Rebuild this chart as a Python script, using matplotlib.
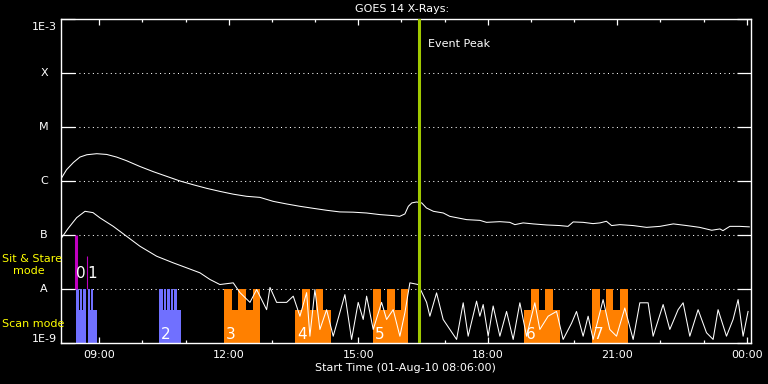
import matplotlib
matplotlib.use('Agg')
import matplotlib.pyplot as plt
import numpy as np

# GOES 14 x-ray flux (W/m^2), time in hours of 01-Aug-10
long_t = [8.11, 8.24, 8.40, 8.55, 8.71, 8.94, 9.17, 9.40, 9.63, 9.94, 10.25, 10.56,
          10.87, 11.18, 11.49, 11.80, 12.10, 12.41, 12.72, 13.03, 13.34, 13.65, 13.96,
          14.27, 14.57, 14.88, 15.19, 15.50, 15.81, 15.96, 16.08, 16.16, 16.24, 16.35,
          16.47, 16.58, 16.74, 16.97, 17.12, 17.51, 17.82, 17.97, 18.28, 18.51, 18.63,
          18.82, 19.05, 19.36, 19.67, 19.86, 19.98, 20.21, 20.44, 20.60, 20.75, 20.87,
          21.06, 21.37, 21.68, 21.99, 22.30, 22.61, 22.91, 23.19, 23.38, 23.45, 23.61,
          23.84, 24.06]
long_flux = [1.09e-6, 1.62e-6, 2.21e-6, 2.78e-6, 3.07e-6, 3.21e-6, 3.11e-6, 2.78e-6,
             2.38e-6, 1.86e-6, 1.49e-6, 1.22e-6, 1.0e-6, 8.5e-7, 7.3e-7, 6.4e-7, 5.7e-7,
             5.2e-7, 4.97e-7, 4.19e-7, 3.75e-7, 3.39e-7, 3.11e-7, 2.86e-7, 2.67e-7,
             2.64e-7, 2.55e-7, 2.38e-7, 2.28e-7, 2.21e-7, 2.45e-7, 3.39e-7, 3.92e-7,
             4.08e-7, 3.92e-7, 3.16e-7, 2.74e-7, 2.55e-7, 2.21e-7, 1.92e-7, 1.86e-7,
             1.71e-7, 1.76e-7, 1.71e-7, 1.55e-7, 1.67e-7, 1.60e-7, 1.53e-7, 1.49e-7,
             1.44e-7, 1.74e-7, 1.71e-7, 1.62e-7, 1.67e-7, 1.79e-7, 1.49e-7, 1.55e-7,
             1.49e-7, 1.38e-7, 1.44e-7, 1.60e-7, 1.49e-7, 1.38e-7, 1.22e-7, 1.29e-7,
             1.20e-7, 1.44e-7, 1.44e-7, 1.41e-7]

short_t = [8.112, 8.274, 8.475, 8.668, 8.853, 9.015, 9.323, 9.633, 9.942, 10.328,
           10.713, 11.023, 11.331, 11.563, 11.794, 12.103, 12.258, 12.490, 12.645,
           12.876, 12.954, 13.108, 13.340, 13.493, 13.648, 13.803, 13.879, 13.995,
           14.111, 14.266, 14.419, 14.690, 14.845, 14.998, 15.114, 15.193, 15.346,
           15.540, 15.656, 15.809, 15.964, 16.080, 16.196, 16.388, 16.583, 16.659,
           16.814, 16.967, 17.123, 17.278, 17.431, 17.546, 17.741, 17.817, 17.894,
           18.010, 18.125, 18.281, 18.436, 18.589, 18.744, 18.899, 19.091, 19.207,
           19.399, 19.594, 19.747, 19.942, 20.057, 20.210, 20.326, 20.442, 20.673,
           20.828, 20.984, 21.176, 21.369, 21.524, 21.716, 21.832, 22.064, 22.219,
           22.411, 22.527, 22.682, 22.874, 23.069, 23.222, 23.337, 23.532, 23.685,
           23.801, 23.917, 24.032]
short_flux = [8.5e-8, 1.31e-7, 2.09e-7, 2.74e-7, 2.59e-7, 2.07e-7, 1.44e-7, 9.4e-8,
              6.15e-8, 4.02e-8, 3.03e-8, 2.45e-8, 1.98e-8, 1.49e-8, 1.20e-8, 1.29e-8,
              8.5e-9, 5.6e-9, 9.7e-9, 4.1e-9, 1.06e-8, 5.6e-9, 5.6e-9, 7.3e-9, 3.1e-9,
              8.5e-9, 1.32e-9, 9.7e-9, 1.76e-9, 4.1e-9, 1.32e-9, 7.8e-9, 1.15e-9,
              5.6e-9, 2.7e-9, 7.3e-9, 1.76e-9, 5.6e-9, 2.7e-9, 4.1e-9, 1.32e-9, 3.6e-9,
              1.29e-8, 1.20e-8, 5.6e-9, 3.1e-9, 8.4e-9, 2.7e-9, 1.76e-9, 1.15e-9,
              5.5e-9, 1.32e-9, 5.9e-9, 3.1e-9, 5.1e-9, 1.32e-9, 4.8e-9, 1.32e-9, 3.8e-9,
              1.15e-9, 5.5e-9, 1.32e-9, 5.5e-9, 1.76e-9, 3.1e-9, 3.8e-9, 1.15e-9, 2.3e-9,
              3.8e-9, 1.32e-9, 3.1e-9, 1.15e-9, 6.3e-9, 1.76e-9, 1.32e-9, 4.4e-9,
              1.15e-9, 5.5e-9, 5.5e-9, 1.32e-9, 5.1e-9, 1.76e-9, 4.1e-9, 5.5e-9, 1.32e-9,
              4.1e-9, 1.53e-9, 1.15e-9, 4.1e-9, 1.32e-9, 2.7e-9, 6.3e-9, 1.32e-9, 3.8e-9]

level_flux = [1e-3, 1e-4, 1e-5, 1e-6, 1e-7, 1e-8, 1e-9]
level_labels = ['1E-3', 'X', 'M', 'C', 'B', 'A', '1E-9']

hour_ticks = [9, 12, 15, 18, 21, 24]
hour_labels = ['09:00', '12:00', '15:00', '18:00', '21:00', '00:00']

event_peak_t = 16.40

# sit & stare pointings
ss_t = [8.459, 8.721]
ss_top = [1e-7, 4.1e-8]
ss_labels = ['0', '1']

# scan mode pointings: bin edges (h) and bar tops (flux)
scan_edges = [
    [8.459, 8.529, 8.552, 8.598, 8.621, 8.691, 8.730, 8.795, 8.818, 8.864, 8.939],
    [10.382, 10.475, 10.498, 10.555, 10.579, 10.636, 10.660, 10.718, 10.741, 10.799, 10.891],
    [11.887, 12.066, 12.219, 12.390, 12.552, 12.721],
    [13.532, 13.701, 13.880, 14.018, 14.188, 14.359],
    [15.332, 15.517, 15.670, 15.848, 15.987, 16.156],
    [18.837, 18.999, 19.184, 19.330, 19.509, 19.671],
    [20.405, 20.597, 20.736, 20.910, 21.061, 21.239],
]
scan_tops = [
    [1e-8, 4e-9, 1e-8, 4e-9, 1e-8, 1e-9, 1e-8, 4e-9, 1e-8, 4e-9],
    [1e-8, 4e-9, 1e-8, 4e-9, 1e-8, 4e-9, 1e-8, 4e-9, 1e-8, 4e-9],
    [1e-8, 4e-9, 1e-8, 4e-9, 1e-8],
    [4e-9, 1e-8, 4e-9, 1e-8, 4e-9],
    [1e-8, 4e-9, 1e-8, 4e-9, 1e-8],
    [4e-9, 1e-8, 4e-9, 1e-8, 4e-9],
    [1e-8, 4e-9, 1e-8, 4e-9, 1e-8],
]
scan_labels = ['', '2', '3', '4', '5', '6', '7']

BLUE = '#7070ff'
ORANGE = '#ff8000'
scan_colors = [BLUE, BLUE, ORANGE, ORANGE, ORANGE, ORANGE, ORANGE]
ss_widths = [2.2, 0.8]

plt.rcParams['font.family'] = 'DejaVu Sans'
plt.rcParams['font.size'] = 8

W, H = 768, 384
fig = plt.figure(figsize=(W / 100, H / 100), dpi=100, facecolor='black')
x0, x1, y0, y1 = 60.5, 751, 19.3, 342.7
ax = fig.add_axes([x0 / W, 1 - y1 / H, (x1 - x0) / W, (y1 - y0) / H])
ax.set_facecolor('black')
ax.set_yscale('log')
ax.set_xlim(8.1, 24.1)
ax.set_ylim(1e-9, 1e-3)

# dotted class lines
for lv in level_flux[1:-1]:
    ax.axhline(lv, color='white', lw=0.75, ls=(0, (1, 3.3)), zorder=1)

# mode bars
for edges, tops, col, lab in zip(scan_edges, scan_tops, scan_colors, scan_labels):
    ax.stairs(tops, edges, baseline=1e-9, fill=True, color=col, lw=0, zorder=2)
    if lab:
        ax.annotate(lab, xy=(edges[0], 1e-9), xytext=(1.5, 2.6), textcoords='offset points',
                    color='white', fontsize=11, ha='left', va='baseline', zorder=5)

for t, top, lw, lab in zip(ss_t, ss_top, ss_widths, ss_labels):
    ax.vlines(t, 1e-8, top, color='#c000c0', lw=lw, zorder=3)
    ax.annotate(lab, xy=(t, 1e-8), xytext=(0.3, 8.1), textcoords='offset points',
                color='white', fontsize=11, ha='left', va='baseline', zorder=5)

ax.plot(long_t, long_flux, color='white', lw=0.75, zorder=4)
ax.plot(short_t, short_flux, color='white', lw=0.75, zorder=4)

ax.axvline(event_peak_t, color='#a0c800', lw=2.2, zorder=4)
ax.annotate('Event Peak', xy=(event_peak_t, 1e-3), xytext=(6.5, -17.5),
            textcoords='offset points', color='white', ha='left', va='center')

# axes styling
for sp in ax.spines.values():
    sp.set_color('white')
    sp.set_linewidth(1.0)
ax.set_yticks(level_flux)
ax.set_yticklabels([])
ax.yaxis.set_minor_locator(matplotlib.ticker.NullLocator())
ax.tick_params(axis='y', which='major', direction='in', length=10, width=0.9,
               color='white', left=True, right=True)
ytrans = ax.get_yaxis_transform()
ylab_off = [-5.5, 0, 0, 0, 0, 0, 2.8]
for lv, lab, off in zip(level_flux, level_labels, ylab_off):
    ax.annotate(lab, xy=(-16.5 / (x1 - x0), lv), xycoords=ytrans, xytext=(0, off),
                textcoords='offset points', color='white', ha='center', va='center')
for lab, y in (('Sit & Stare', 259), ('mode', 271)):
    fig.text((2 if lab != 'mode' else 13) / W, 1 - y / H, lab, color='yellow',
             ha='left', va='center')
fig.text(2 / W, 1 - 324 / H, 'Scan mode', color='yellow', ha='left', va='center')

ax.set_xticks(hour_ticks)
ax.set_xticklabels(hour_labels, color='white')
ax.set_xticks(np.arange(9, 24.1, 1), minor=True)
ax.tick_params(axis='x', which='major', direction='in', length=4.3, width=0.9,
               color='white', top=True, bottom=True, pad=5)
ax.tick_params(axis='x', which='minor', direction='in', length=2.4, width=0.9,
               color='white', top=True, bottom=True)

fig.text(402 / W, 1 - 9 / H, 'GOES 14 X-Rays:', color='white', ha='center', va='center')
fig.text(405 / W, 1 - 368 / H, 'Start Time (01-Aug-10 08:06:00)', color='white',
         ha='center', va='center')

fig.savefig('out.png', dpi=100, facecolor='black')
